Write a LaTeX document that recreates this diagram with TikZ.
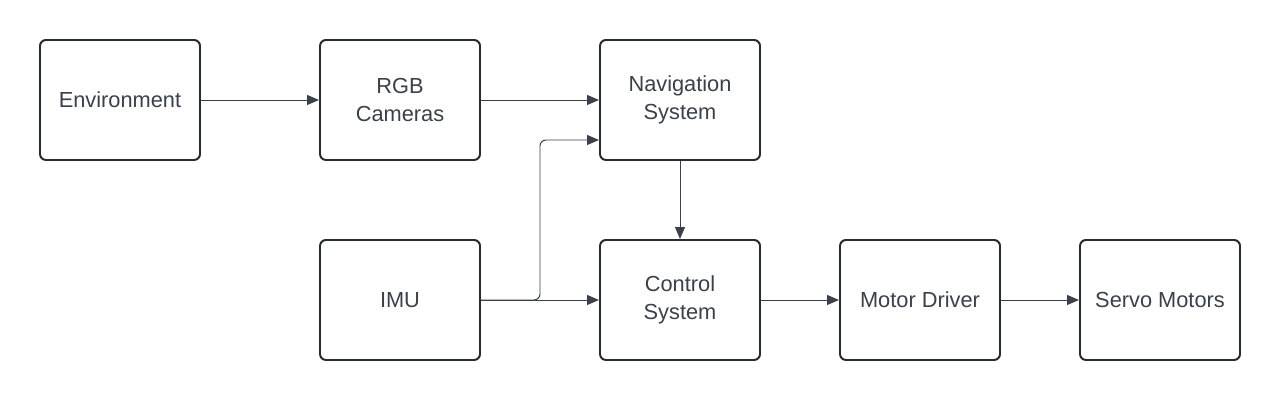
\documentclass[tikz,border=0pt]{standalone}
\usepackage{fontspec}
\setmainfont{Liberation Sans}
\usetikzlibrary{arrows.meta, positioning}
\definecolor{boxline}{HTML}{282C34}
\definecolor{wire}{HTML}{3A414A}

\begin{document}
\begin{tikzpicture}[-{Triangle[length=0.3cm, width=0.25cm]}, node distance =5cm and 7cm, on grid, line width=0.7pt, draw=wire]
      \tikzstyle{block}=[draw=boxline, line width=1.4pt, rounded corners=0.15cm, minimum width=4cm, minimum height=3cm, align=center, text=wire, font=\fontsize{15.5}{19.5}\selectfont]
      \useasboundingbox[fill=white] (0,0) rectangle (32,-10);
      \node[block] (env) at (3,-2.5) {Environment};
      \node[block] (rgb) [right = of env] {RGB\\Cameras};
      \node[block] (nav) [right = of rgb] {Navigation\\System};
      \node[block] (imu) [below = of rgb] {IMU};
      \node[block] (ctrl) [below = of nav] {Control\\System};
      \node[block] (drv) [right = 6cm of ctrl] {Motor Driver};
      \node[block] (servo) [right = 6cm of drv] {Servo Motors};
      \draw[wire] (env) -- (rgb);
      \draw[wire] (rgb) -- (nav);
      \draw[wire, rounded corners=0.15cm] (imu.east) -| (13.5,-3.5) -- ([yshift=-1cm]nav.west);
      \draw[wire] (imu) -- (ctrl);
      \draw[wire] (nav) -- (ctrl);
      \draw[wire] (ctrl) -- (drv);
      \draw[wire] (drv) -- (servo);
    \end{tikzpicture}
\end{document}
